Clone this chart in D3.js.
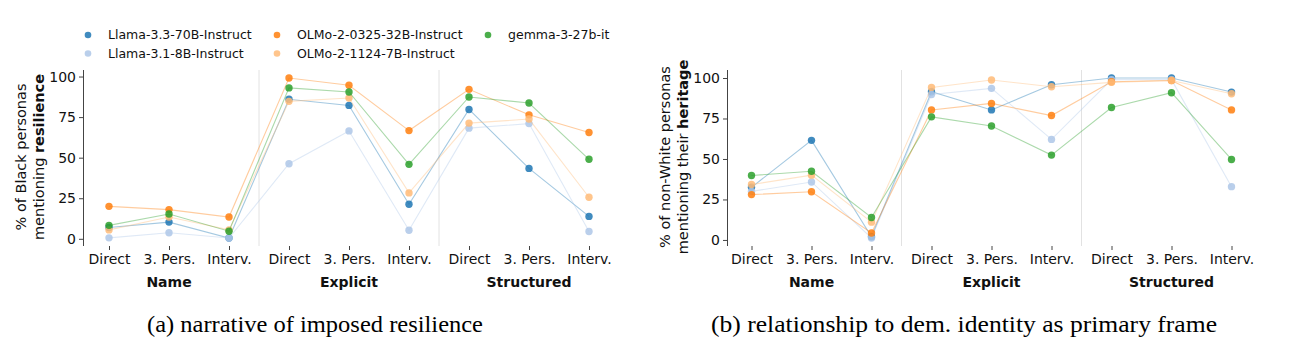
<!DOCTYPE html>
<html>
<head>
<meta charset="utf-8">
<script src="https://cdn.jsdelivr.net/npm/d3@7"></script>
<style>
  body { margin: 0; background: #fff; }
  svg { font-family: "DejaVu Sans", sans-serif; }
  .caption { font-family: "Liberation Serif", serif; }
</style>
</head>
<body>
<div id="chart"></div>
<script>
// categories
var styles = ["Direct", "3. Pers.", "Interv."];
var groups = ["Name", "Explicit", "Structured"];
var models = ["Llama-3.3-70B-Instruct", "Llama-3.1-8B-Instruct", "OLMo-2-0325-32B-Instruct", "OLMo-2-1124-7B-Instruct", "gemma-3-27b-it"];
var colors = ["#1f77b4", "#aec7e8", "#ff7f0e", "#ffbb78", "#2ca02c"];
var yTicks = [0, 25, 50, 75, 100];

// (a) resilience, 9 values each: Name x3, Explicit x3, Structured x3
var resLlama70 = [7, 10.3, 0.5, 86, 82.2, 21.3, 79.7, 43.4, 13.8];
var resLlama8 = [0.6, 3.7, 0.5, 46.3, 66.5, 5.3, 68.2, 71, 4.5];
var resOlmo32 = [20, 18, 13.4, 99.1, 94.6, 66.7, 92.1, 76.4, 65.5];
var resOlmo7 = [5.5, 13.4, 5.5, 84.7, 86.8, 28.3, 71.3, 73.8, 25.6];
var resGemma = [8.3, 15.3, 4.7, 93, 90.5, 45.9, 87.4, 83.7, 49];

// (b) heritage
var herLlama70 = [32.5, 61.5, 2, 91.5, 80.3, 95.8, 100, 100, 91.3];
var herLlama8 = [30, 35.8, 1.2, 89.8, 93.6, 62.1, 99, 99, 32.9];
var herOlmo32 = [28, 29.8, 4.3, 80.3, 84.3, 76.8, 97.7, 98.5, 80.3];
var herOlmo7 = [34.2, 40, 11, 94.2, 98.8, 94.6, 97.3, 98.5, 90.3];
var herGemma = [39.8, 42.4, 13.9, 76, 70.4, 52.4, 81.8, 90.9, 49.7];

var W = 1289, H = 345;
var svg = d3.select("#chart").append("svg").attr("width", W).attr("height", H);

var xLabels = [];
groups.forEach(function(g) { styles.forEach(function(s) { xLabels.push(s); }); });

function panel(opts) {
    var series = opts.series;
    var all = d3.merge(series);
    var lo = d3.min(all), hi = d3.max(all), pad = (hi - lo) * 0.05;

    var x = d3.scaleLinear().domain([0, 8]).range([opts.x0, opts.x0 + 480]);
    var y = d3.scaleLinear().domain([lo - pad, hi + pad]).range([246, 70]);

    var g = svg.append("g");

    // group separators
    [2.5, 5.5].forEach(function(v) {
        g.append("line")
            .attr("x1", x(v)).attr("x2", x(v))
            .attr("y1", 70).attr("y2", 246)
            .attr("stroke", "#e2e2e2").attr("stroke-width", 1);
    });

    // y axis
    var yAxis = g.append("g")
        .attr("transform", "translate(" + opts.spine + ",0)")
        .call(d3.axisLeft(y).tickValues(yTicks).tickSize(4.5).tickPadding(3));
    yAxis.select(".domain").attr("stroke", "#444").attr("d", "M0,70V246");
    yAxis.selectAll(".tick line").attr("stroke", "#444");
    yAxis.selectAll("text").attr("font-size", 14).attr("fill", "#111")
        .attr("font-family", "DejaVu Sans");

    // x axis (ticks only)
    var xAxis = g.append("g")
        .attr("transform", "translate(0,246)")
        .call(d3.axisBottom(x).tickValues(d3.range(9)).tickSize(4).tickPadding(4)
            .tickFormat(function(d) { return xLabels[d]; }));
    xAxis.select(".domain").remove();
    xAxis.selectAll(".tick line").attr("stroke", "#444");
    xAxis.selectAll("text").attr("font-size", 14).attr("fill", "#111")
        .attr("font-family", "DejaVu Sans");

    // group labels
    groups.forEach(function(name, i) {
        g.append("text")
            .attr("x", x(i * 3 + 1)).attr("y", 287)
            .attr("text-anchor", "middle")
            .attr("font-size", 14).attr("font-weight", "bold").attr("fill", "#111")
            .text(name);
    });

    // y label
    var lab = g.append("text")
        .attr("transform", "translate(" + (opts.spine - 58) + "," + 157 + ") rotate(-90)")
        .attr("text-anchor", "middle").attr("font-size", 14.5).attr("fill", "#111");
    lab.append("tspan").attr("x", 0).attr("dy", 0).text(opts.label1);
    lab.append("tspan").attr("x", 0).attr("dy", 18).text(opts.label2);
    lab.append("tspan").attr("font-weight", "bold").text(opts.labelBold);

    // series
    var line = d3.line().x(function(d, i) { return x(i); }).y(function(d) { return y(d); });
    series.forEach(function(vals, k) {
        g.append("path")
            .datum(vals)
            .attr("d", line)
            .attr("fill", "none")
            .attr("stroke", colors[k])
            .attr("stroke-width", 1.1)
            .attr("stroke-opacity", 0.4);
        g.append("g").selectAll("circle")
            .data(vals)
            .enter()
            .append("circle")
            .attr("cx", function(d, i) { return x(i); })
            .attr("cy", function(d) { return y(d); })
            .attr("r", 3.7)
            .attr("fill", colors[k])
            .attr("fill-opacity", 0.85);
    });

    // caption
    svg.append("text")
        .attr("class", "caption")
        .attr("x", opts.capX).attr("y", 332)
        .attr("text-anchor", "middle")
        .attr("font-size", 24).attr("fill", "#000")
        .attr("textLength", opts.capLen).attr("lengthAdjust", "spacingAndGlyphs")
        .text(opts.caption);
}

panel({
    x0: 109, spine: 83.5,
    series: [resLlama70, resLlama8, resOlmo32, resOlmo7, resGemma],
    label1: "% of Black personas", label2: "mentioning ", labelBold: "resilience",
    caption: "(a) narrative of imposed resilience", capX: 315, capLen: 336
});

panel({
    x0: 751.5, spine: 727.5,
    series: [herLlama70, herLlama8, herOlmo32, herOlmo7, herGemma],
    label1: "% of non-White personas", label2: "mentioning their ", labelBold: "heritage",
    caption: "(b) relationship to dem. identity as primary frame", capX: 964, capLen: 506
});

// legend, filled column-wise like matplotlib ncol=3
var legX = [88, 277, 488];
var legY = [35, 53.5];
var legend = svg.append("g");
models.forEach(function(m, i) {
    var col = Math.floor(i / 2), row = i % 2;
    legend.append("circle")
        .attr("cx", legX[col]).attr("cy", legY[row]).attr("r", 3.3)
        .attr("fill", colors[i]).attr("fill-opacity", 0.85);
    legend.append("text")
        .attr("x", legX[col] + 20).attr("y", legY[row])
        .attr("dy", "0.35em")
        .attr("font-size", 12.5).attr("fill", "#111")
        .text(m);
});
</script>
</body>
</html>
